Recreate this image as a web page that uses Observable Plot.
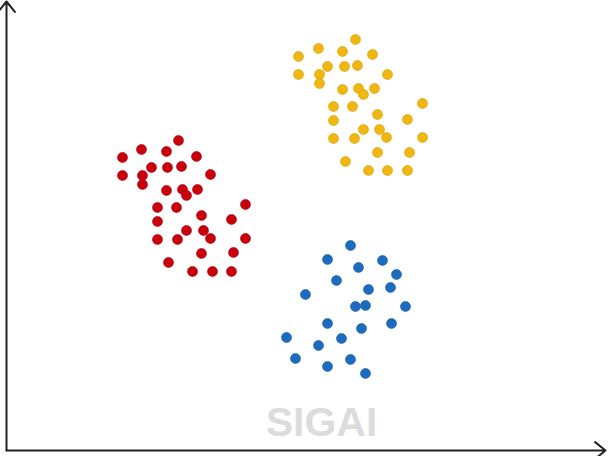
<!DOCTYPE html>
<html>
<head>
<meta charset="utf-8">
<script src="https://cdn.jsdelivr.net/npm/d3@7"></script>
<script src="https://cdn.jsdelivr.net/npm/@observablehq/plot@0.6"></script>
<style>
  html, body { margin: 0; padding: 0; background: #ffffff; }
  #chart svg { display: block; overflow: visible; }
</style>
</head>
<body>
<div id="chart"></div>
<script>
// Cluster points (arbitrary units; no tick labels in the reference)
const redX = [172,135,160,116,190,145,161,175,116,136,204,136,160,176,191,180,239,151,170,195,225,151,180,197,151,171,204,239,195,227,162,186,206,225];
const redY = [310,301,299,293,294,283,283,284,275,275,276,266,260,261,261,255,246,243,243,235,231,229,220,220,211,211,212,212,197,198,188,179,179,179];

const yellowX = [349,312,336,292,366,321,338,351,292,313,381,313,336,352,368,357,416,327,346,371,401,327,357,373,327,348,380,416,371,403,339,362,381,401];
const yellowY = [411,402,399,394,396,384,384,385,376,376,376,367,361,362,362,356,347,344,344,336,331,330,321,321,312,312,313,313,298,298,289,280,280,280];

const blueX = [344,321,376,352,390,330,362,384,299,349,359,399,321,355,385,280,335,312,289,344,321,359];
const blueY = [205,191,190,183,176,170,161,163,156,144,145,144,127,122,127,113,112,105,92,91,84,77];

const clusterNames = ["cluster 1", "cluster 2", "cluster 3"];
const clusterFill = ["#c9000b", "#f0b611", "#1b6cbe"];
const clusterStroke = ["#a30008", "#d99c00", "#155a9f"];

const watermark = ["SIGAI"];

const points = [
  ...redX.map((x, i) => ({x, y: redY[i], c: 0})),
  ...yellowX.map((x, i) => ({x, y: yellowY[i], c: 1})),
  ...blueX.map((x, i) => ({x, y: blueY[i], c: 2}))
];

const chart = Plot.plot({
  width: 608,
  height: 456,
  marginLeft: 6,
  marginRight: 0,
  marginTop: 0,
  marginBottom: 6,
  x: {domain: [0, 602], axis: null},
  y: {domain: [0, 450], axis: null},
  marks: [
    Plot.text(watermark, {
      x: 315, y: 15, text: d => d,
      fontSize: 41, fontWeight: "bold", fill: "#dcdcdc",
      fontFamily: "Liberation Sans, Arial, sans-serif",
      textAnchor: "middle", lineAnchor: "bottom", letterSpacing: 1
    }),
    Plot.arrow([0], {x1: 0, y1: 0, x2: 0, y2: 449, stroke: "#222", strokeWidth: 2, headLength: 10, headAngle: 78}),
    Plot.arrow([0], {x1: 0, y1: 0, x2: 599, y2: 0, stroke: "#222", strokeWidth: 2, headLength: 10, headAngle: 78}),
    Plot.dot(points, {
      x: "x", y: "y", r: 5,
      fill: d => clusterFill[d.c],
      stroke: d => clusterStroke[d.c],
      strokeWidth: 0.6
    })
  ]
});
document.getElementById("chart").append(chart);
</script>
</body>
</html>
